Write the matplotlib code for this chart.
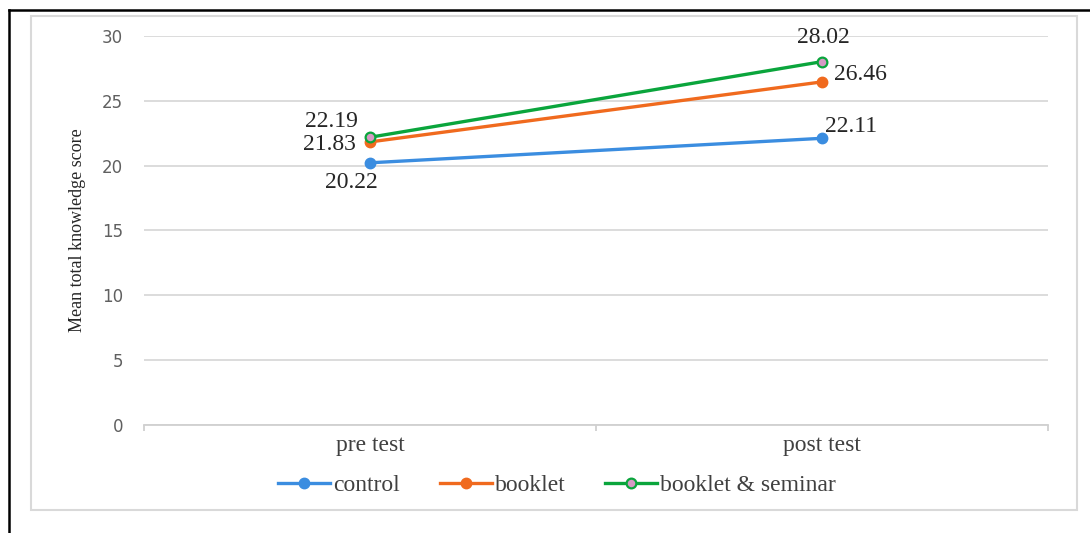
import matplotlib.pyplot as plt
from matplotlib.lines import Line2D
from matplotlib.patches import Rectangle

categories = ["pre test", "post test"]
control = [20.22, 22.11]
booklet = [21.83, 26.46]
booklet_seminar = [22.19, 28.02]

serif = "Liberation Serif"

fig = plt.figure(figsize=(10.9, 5.33), dpi=100)
ax = fig.add_axes([0.1321, 0.2026, 0.8294, 0.7299])

x = list(range(len(categories)))
ax.plot(x, control, color="#3b8de0", lw=2.4, marker="o", ms=7.5, label="control")
ax.plot(x, booklet, color="#f06a1e", lw=2.4, marker="o", ms=7.5, label="booklet")
ax.plot(x, booklet_seminar, color="#0aa53c", lw=2.4, marker="o", ms=7,
        mfc="#d69ac4", mec="#0aa53c", mew=1.6, label="booklet & seminar")

# data labels (offsets in points, label centres)
lab = dict(fontsize=17, family=serif, color="#262626", textcoords="offset points",
           ha="center", va="center")
ax.annotate(f"{control[0]:.2f}", (0, control[0]), xytext=(-13.7, -14), **lab)
ax.annotate(f"{booklet[0]:.2f}", (0, booklet[0]), xytext=(-29.5, -2), **lab)
ax.annotate(f"{booklet_seminar[0]:.2f}", (0, booklet_seminar[0]), xytext=(-28, 11.5), **lab)
ax.annotate(f"{control[1]:.2f}", (1, control[1]), xytext=(21, 8.6), **lab)
ax.annotate(f"{booklet[1]:.2f}", (1, booklet[1]), xytext=(28, 5), **lab)
ax.annotate(f"{booklet_seminar[1]:.2f}", (1, booklet_seminar[1]), xytext=(0.7, 17.6), **lab)

ax.set_xlim(-0.5, 1.5)
ax.set_ylim(0, 30)
ax.set_yticks(range(0, 31, 5))
ax.yaxis.grid(True, color="#d9d9d9", lw=1.3)
ax.set_axisbelow(True)
for s in ["top", "right", "left"]:
    ax.spines[s].set_visible(False)
ax.spines["bottom"].set_color("#d0d0d0")
ax.spines["bottom"].set_linewidth(1.3)

ax.set_xticks(x)
ax.set_xticklabels(categories, family=serif, fontsize=17, color="#404040")
ax.set_xticks([-0.5, 0.5, 1.5], minor=True)
ax.tick_params(axis="x", which="major", length=0, pad=7)
ax.tick_params(axis="x", which="minor", length=4, color="#d0d0d0", width=1.3)
ax.tick_params(axis="y", length=0, pad=15, labelsize=12, labelcolor="#606060")

ax.set_ylabel("Mean total knowledge score", family=serif, fontsize=13, color="#262626")
ax.yaxis.set_label_coords(-0.064, 0.5)

fig.legend(loc="center", bbox_to_anchor=(0.511, 0.09), ncol=3, frameon=False,
           prop={"family": serif, "size": 17}, labelcolor="#404040",
           handlelength=2.2, handletextpad=0.12, columnspacing=1.7)

# chart area box and outer black border
fig.add_artist(Rectangle((31 / 1090, 1 - 510 / 533), (1077 - 31) / 1090, (510 - 16) / 533,
                         transform=fig.transFigure, fill=False, ec="#d9d9d9", lw=1.5))
fig.add_artist(Line2D([9 / 1090, 9 / 1090], [0, 1 - 10 / 533], transform=fig.transFigure, color="black", lw=1.8))
fig.add_artist(Line2D([9 / 1090, 1], [1 - 10 / 533, 1 - 10 / 533], transform=fig.transFigure, color="black", lw=1.8))

fig.savefig("out.png", dpi=100)
